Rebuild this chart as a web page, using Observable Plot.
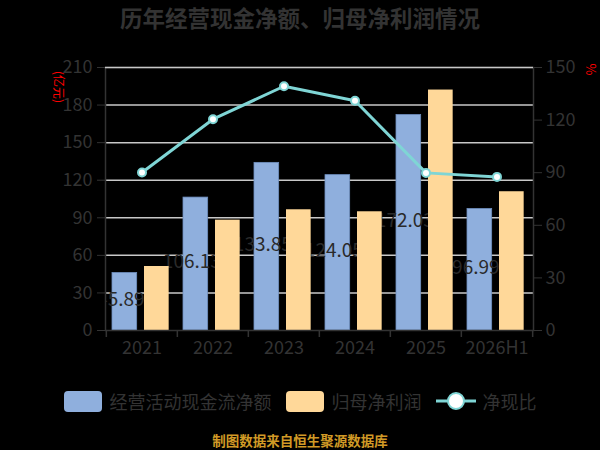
<!DOCTYPE html>
<html>
<head>
<meta charset="utf-8">
<script src="https://cdn.jsdelivr.net/npm/d3@7"></script>
<script src="https://cdn.jsdelivr.net/npm/@observablehq/plot@0.6"></script>
<style>
  html, body { margin: 0; padding: 0; background: #000; }
  body { font-family: "Noto Sans CJK SC", "Noto Sans", sans-serif; }
  #wrap { width: 600px; height: 450px; overflow: hidden; }
  #title { height: 40px; line-height: 34px; text-align: center; font-size: 22.5px; font-weight: bold; color: #333; }
  #chart { height: 330px; }
  #legend { height: 62px; display: flex; align-items: center; justify-content: center; font-size: 18px; color: #333; }
  .sw { width: 38px; height: 21px; border-radius: 4px; margin-right: 8px; }
  .lab { margin-right: 14px; white-space: nowrap; }
  #source { height: 18px; line-height: 16px; text-align: center; font-size: 13.5px; font-weight: bold; color: #d19a26; }
</style>
</head>
<body>
<div id="wrap">
  <div id="title">历年经营现金净额、归母净利润情况</div>
  <div id="chart"></div>
  <div id="legend"></div>
  <div id="source">制图数据来自恒生聚源数据库</div>
</div>
<script>
// ---- data ----
const years = ["2021", "2022", "2023", "2024", "2025", "2026H1"];
const cashFlow = [45.89, 106.13, 133.85, 124.05, 172.03, 96.99];   // 经营活动现金流净额 (亿元)
const netProfit = [51.1, 88.1, 96.4, 94.8, 192.0, 110.8];          // 归母净利润 (亿元)
const cashRatio = [90.1, 120.5, 139.3, 131.0, 89.9, 87.6];          // 净现比 (%)
const leftTicks = [0, 30, 60, 90, 120, 150, 180, 210];
const rightTicks = [0, 30, 60, 90, 120, 150];
const seriesNames = ["经营活动现金流净额", "归母净利润", "净现比"];

// ---- styles ----
const BLUE = "#8fafdd", ORANGE = "#ffd899", CYAN = "#7fd5d5";
const leftMax = 210, rightMax = 150, k = leftMax / rightMax;

const rows = years.map((y, i) => ({year: y, cash: cashFlow[i], profit: netProfit[i], ratio: cashRatio[i]}));

const W = 600, H = 330, mL = 105, mR = 67, mT = 27, mB = 40;
const bw = (W - mL - mR) / years.length;

const chart = Plot.plot({
  width: W, height: H,
  marginLeft: mL, marginRight: mR, marginTop: mT, marginBottom: mB,
  style: {background: "transparent", color: "#333", fontFamily: '"Noto Sans CJK SC","Noto Sans",sans-serif'},
  x: {type: "band", domain: years, padding: 0, label: null},
  y: {domain: [0, leftMax], label: null},
  marks: [
    Plot.gridY(leftTicks.filter(d => d > 0 && d < leftMax), {stroke: "#c8c8c8", strokeOpacity: 1, strokeWidth: 1.5}),
    Plot.barY(rows, {x: "year", y: "cash", fill: BLUE, stroke: "#6f8fc0", strokeWidth: 0.8, insetLeft: 6, insetRight: bw - 31}),
    Plot.text(rows, {x: "year", y: d => d.cash / 2, text: d => d.cash.toFixed(2), dx: 6 + 12.5 - bw / 2 - 4, dy: -2, fill: "#2a2a2a", fontSize: 19, clip: true}),
    Plot.barY(rows, {x: "year", y: "profit", fill: ORANGE, insetLeft: 38, insetRight: bw - 63}),
    Plot.frame({stroke: "#333", strokeWidth: 1.5}),
    Plot.gridY([leftMax], {stroke: "#c8c8c8", strokeOpacity: 1, strokeWidth: 1.5}),
    Plot.ruleX(years, {x: d => d, y1: 0, y2: 0, insetBottom: -7, dx: -bw / 2, stroke: "#333", strokeWidth: 1.5}),
    Plot.ruleX([years[years.length - 1]], {x: d => d, y1: 0, y2: 0, insetBottom: -7, dx: bw / 2, stroke: "#333", strokeWidth: 1.5}),
    Plot.axisY(leftTicks, {anchor: "left", tickSize: 8, tickPadding: 5, fontSize: 18, stroke: "#333", fill: "#333", label: null}),
    Plot.axisY(rightTicks.map(d => d * k), {anchor: "right", tickSize: 8, tickPadding: 4, fontSize: 18, stroke: "#333", fill: "#333", label: null, tickFormat: d => String(Math.round(d / k))}),
    Plot.axisX({tickSize: 0, tickPadding: 11, fontSize: 18, fill: "#333", label: null}),
    Plot.line(rows, {x: "year", y: d => d.ratio * k, stroke: CYAN, strokeWidth: 3}),
    Plot.dot(rows, {x: "year", y: d => d.ratio * k, r: 4, fill: "#fff", stroke: CYAN, strokeWidth: 2}),
    Plot.text(["(亿元)"], {frameAnchor: "top-left", textAnchor: "middle", lineAnchor: "middle", dx: -47.5, dy: 19.5, rotate: 90, fill: "red", fontSize: 12}),
    Plot.text(["%"], {frameAnchor: "top-right", textAnchor: "middle", lineAnchor: "middle", dx: 57, dy: 2, rotate: 90, fill: "red", fontSize: 13})
  ]
});
document.getElementById("chart").appendChild(chart);

// ---- legend ----
const legend = document.getElementById("legend");
function addSwatch(color, name) {
  const s = document.createElement("div"); s.className = "sw"; s.style.background = color; legend.appendChild(s);
  const t = document.createElement("span"); t.className = "lab"; t.textContent = name; legend.appendChild(t);
}
addSwatch(BLUE, seriesNames[0]);
addSwatch(ORANGE, seriesNames[1]);
const ns = "http://www.w3.org/2000/svg";
const ls = document.createElementNS(ns, "svg");
ls.setAttribute("width", 40); ls.setAttribute("height", 22); ls.style.marginRight = "7px";
const ln = document.createElementNS(ns, "line");
ln.setAttribute("x1", 0); ln.setAttribute("x2", 40); ln.setAttribute("y1", 11); ln.setAttribute("y2", 11);
ln.setAttribute("stroke", CYAN); ln.setAttribute("stroke-width", 3);
const cc = document.createElementNS(ns, "circle");
cc.setAttribute("cx", 20); cc.setAttribute("cy", 11); cc.setAttribute("r", 8);
cc.setAttribute("fill", "#fff"); cc.setAttribute("stroke", CYAN); cc.setAttribute("stroke-width", 2);
ls.appendChild(ln); ls.appendChild(cc); legend.appendChild(ls);
const t3 = document.createElement("span"); t3.textContent = seriesNames[2]; t3.style.whiteSpace = "nowrap"; legend.appendChild(t3);
</script>
</body>
</html>
